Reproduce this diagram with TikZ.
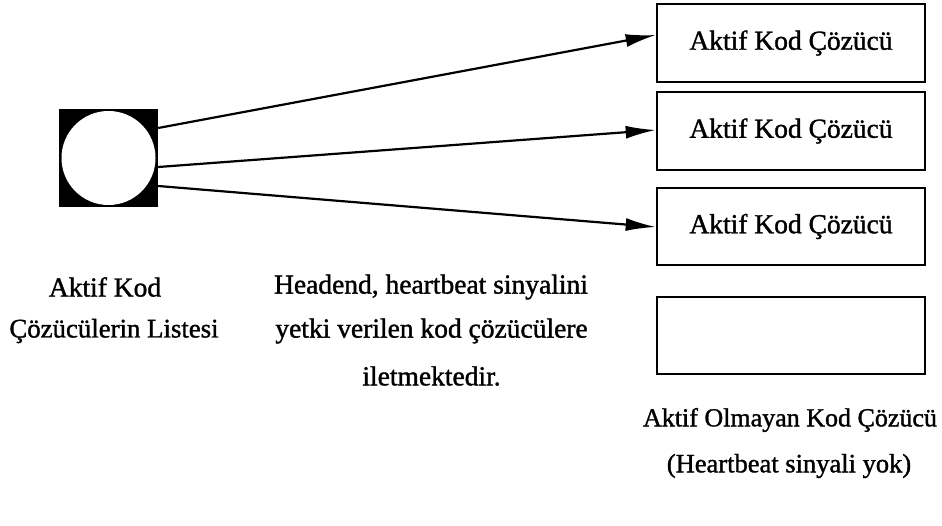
\documentclass[tikz,border=0pt]{standalone}
\usepackage{fontspec}
\setmainfont{Liberation Serif}[FakeBold=1.3]
\usetikzlibrary{arrows.meta}
\begin{document}
\begin{tikzpicture}[x=1pt,y=-1pt,
  lbl/.style={inner sep=0pt, font=\fontsize{27.5}{32}\selectfont},
  decoder/.style={draw, line width=2.6pt, minimum width=268pt, minimum height=76pt,
                  inner sep=0pt, font=\fontsize{27.5}{32}\selectfont},
  conn/.style={line width=2.2pt, -{Latex[length=30pt,width=13pt]}}]
\useasboundingbox (0,0) rectangle (942,526);

% list of active decoders: black square with white disc
\node[fill=black, minimum width=99pt, minimum height=98pt, inner sep=0pt] (list) at (108.5,158) {};
\node[circle, fill=white, minimum size=94pt, inner sep=0pt] (disc) at (list.center) {};

% decoder boxes
\node[decoder, minimum height=78pt] (d1) at (791,43) {Aktif Kod Çözücü};
\node[decoder, minimum height=78pt] (d2) at (791,131) {Aktif Kod Çözücü};
\node[decoder, minimum height=77pt] (d3) at (791,226.5) {Aktif Kod Çözücü};
\node[decoder, minimum height=77pt] (d4) at (791,335.5) {};

% heartbeat signals
\draw[conn] ([yshift=30pt]list.east) -- ([yshift=8pt]d1.west);
\draw[conn] ([yshift=-9pt]list.east) -- ([yshift=1pt]d2.west);
\draw[conn] ([yshift=-28pt]list.east) -- ([yshift=-0.5pt]d3.west);

% captions
\node[lbl] (c1) at (105,287) {Aktif Kod};
\node[lbl, font=\fontsize{26.8}{32}\selectfont] (c2) at (114,331) {Çözücülerin Listesi};
\node[lbl] (h1) at (431,287) {Headend, heartbeat sinyalini};
\node[lbl] (h2) at (431.5,331) {yetki verilen kod çözücülere};
\node[lbl] (h3) at (431.5,376) {iletmektedir.};
\node[lbl, font=\fontsize{26}{32}\selectfont] (n1) at (790,420) {Aktif Olmayan Kod Çözücü};
\node[lbl, font=\fontsize{26.5}{32}\selectfont] (n2) at (789,466) {(Heartbeat sinyali yok)};
\end{tikzpicture}
\end{document}
